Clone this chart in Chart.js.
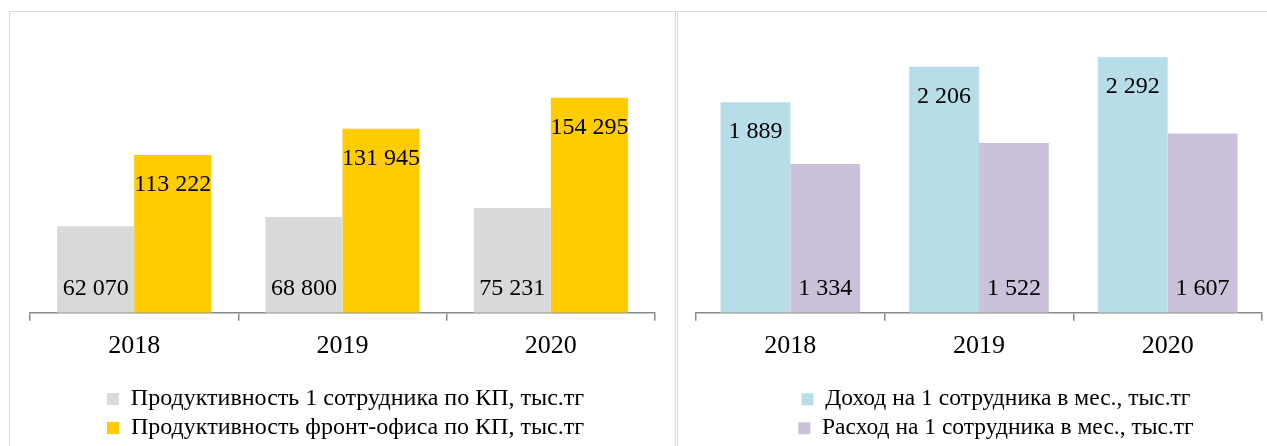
<!DOCTYPE html>
<html>
<head>
<meta charset="utf-8">
<script src="https://cdn.jsdelivr.net/npm/chart.js@4.4.1/dist/chart.umd.min.js"></script>
<style>
    html, body { margin: 0; padding: 0; background: #fff; overflow: hidden; }
    body { width: 1267px; height: 446px; position: relative; }
    .panel { position: absolute; top: 11px; height: 470px; border: 1px solid #d9d9d9; box-sizing: border-box; background: #fff; }
    #leftPanel { left: 9px; width: 667px; }
    #rightPanel { left: 677px; width: 700px; }
    canvas { display: block; }
</style>
</head>
<body>
<div class="panel" id="leftPanel"><canvas id="leftChart" width="665" height="434"></canvas></div>
<div class="panel" id="rightPanel"><canvas id="rightChart" width="644" height="434"></canvas></div>
<script>
// Dados dos gráficos
const years = ['2018', '2019', '2020'];

const prodLabelEmployee = 'Продуктивность 1 сотрудника по КП, тыс.тг';
const prodLabelFront = 'Продуктивность фронт-офиса по КП, тыс.тг';
const prodEmployee = [62070, 68800, 75231];
const prodFront = [113222, 131945, 154295];

const incomeLabel = 'Доход на 1 сотрудника в мес., тыс.тг';
const expenseLabel = 'Расход на 1 сотрудника в мес., тыс.тг';
const incomePerEmployee = [1889, 2206, 2292];
const expensePerEmployee = [1334, 1522, 1607];

const FONT_FAMILY = "'Times New Roman', 'Liberation Serif', serif";

function formatNumber(value) {
    return String(value).replace(/\B(?=(\d{3})+(?!\d))/g, ' ');
}

// Plugin simples para os rótulos dentro das barras
const barLabels = {
    id: 'barLabels',
    afterDatasetsDraw(chart) {
        const ctx = chart.ctx;
        ctx.save();
        ctx.font = '24px ' + FONT_FAMILY;
        ctx.fillStyle = '#000';
        ctx.textAlign = 'center';
        ctx.textBaseline = 'middle';
        chart.data.datasets.forEach((ds, i) => {
            const meta = chart.getDatasetMeta(i);
            meta.data.forEach((bar, j) => {
                const text = formatNumber(ds.data[j]);
                const y = ds.labelPos === 'end' ? bar.y + 30 : bar.base - 24;
                ctx.fillText(text, bar.x, y);
            });
        });
        ctx.restore();
    }
};

// Desloca a legenda na horizontal (o centro padrão segue a área do gráfico)
const legendShift = {
    id: 'legendShift',
    afterLayout(chart, args, opts) {
        if (chart.legend && opts.dx) {
            chart.legend.left += opts.dx;
            chart.legend.right += opts.dx;
        }
    }
};

function buildOptions(yMax, padding, legendFontSize, legendDx) {
    return {
        responsive: false,
        animation: false,
        layout: { padding: padding },
        plugins: {
            tooltip: { enabled: false },
            legendShift: { dx: legendDx },
            legend: {
                position: 'bottom',
                labels: {
                    boxWidth: 12,
                    boxHeight: 12,
                    padding: 29 - legendFontSize,
                    color: '#000',
                    font: { family: FONT_FAMILY, size: legendFontSize }
                }
            }
        },
        scales: {
            x: {
                grid: {
                    display: true,
                    drawOnChartArea: false,
                    drawTicks: true,
                    tickLength: 8,
                    color: '#898989',
                    lineWidth: 1.5
                },
                border: { display: true, color: '#898989', width: 1.5 },
                ticks: {
                    color: '#000',
                    padding: 10,
                    font: { family: FONT_FAMILY, size: 26 }
                },
                // espaço extra abaixo dos rótulos do eixo
                afterFit: function(scale) {
                    scale.height += 10;
                }
            },
            y: {
                display: false,
                min: 0,
                max: yMax
            }
        }
    };
}

document.addEventListener('DOMContentLoaded', function() {
    // Gráfico da esquerda: produtividade
    new Chart(document.getElementById('leftChart').getContext('2d'), {
        type: 'bar',
        data: {
            labels: years,
            datasets: [
                {
                    label: prodLabelEmployee,
                    data: prodEmployee,
                    backgroundColor: '#d9d9d9',
                    borderWidth: 0,
                    categoryPercentage: 0.74,
                    barPercentage: 1,
                    labelPos: 'base'
                },
                {
                    label: prodLabelFront,
                    data: prodFront,
                    backgroundColor: '#ffcc00',
                    borderWidth: 0,
                    categoryPercentage: 0.74,
                    barPercentage: 1,
                    labelPos: 'end'
                }
            ]
        },
        options: buildOptions(200000, { top: 22, left: 20, right: 20, bottom: -4 }, 24, 3),
        plugins: [barLabels, legendShift]
    });

    // Gráfico da direita: receita e despesa
    new Chart(document.getElementById('rightChart').getContext('2d'), {
        type: 'bar',
        data: {
            labels: years,
            datasets: [
                {
                    label: incomeLabel,
                    data: incomePerEmployee,
                    backgroundColor: '#b7dee8',
                    borderWidth: 0,
                    categoryPercentage: 0.74,
                    barPercentage: 1,
                    labelPos: 'end'
                },
                {
                    label: expenseLabel,
                    data: expensePerEmployee,
                    backgroundColor: '#ccc1da',
                    borderWidth: 0,
                    categoryPercentage: 0.74,
                    barPercentage: 1,
                    labelPos: 'base'
                }
            ]
        },
        options: buildOptions(2500, { top: 22, left: 18, right: 60, bottom: -4 }, 23.5, 17),
        plugins: [barLabels, legendShift]
    });
});
</script>
</body>
</html>
